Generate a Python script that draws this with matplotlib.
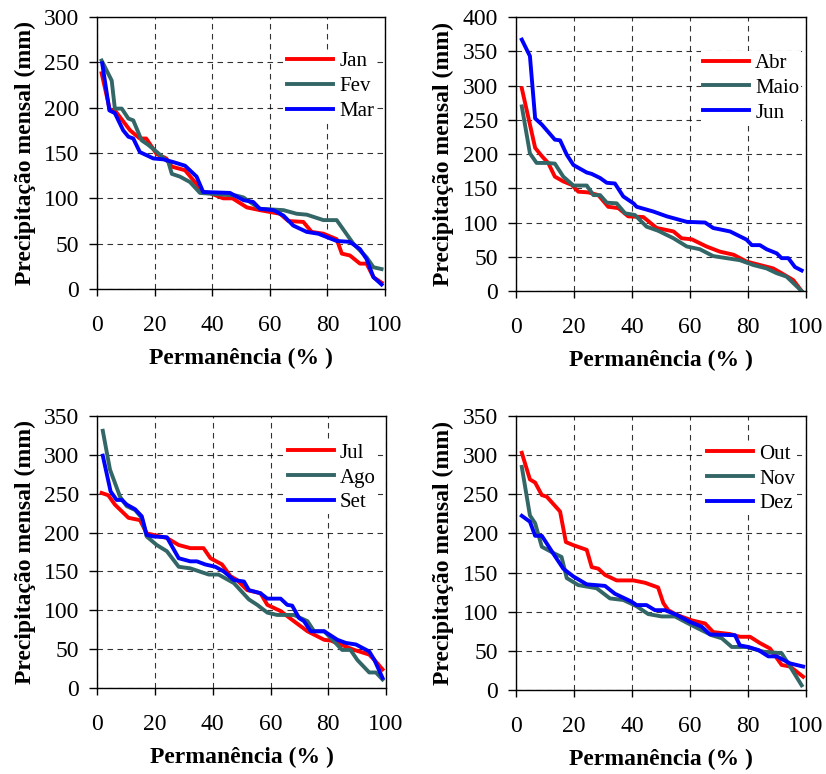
import matplotlib
matplotlib.use("Agg")
import matplotlib.pyplot as plt

# Curvas de permanência da precipitação mensal
jan_x = [1.5, 4.4, 6.1, 11.4, 14.8, 17.0, 20.6, 24.0, 25.9, 30.5, 36.8, 39.0, 43.8, 47.0, 52.0, 56.5,
         63.5, 66.4, 71.6, 74.5, 78.6, 83.2, 85.0, 87.8, 91.3, 93.6, 96.0, 98.8]
jan_y = [238, 197, 197, 175, 166, 166, 149, 144, 135, 131, 107, 106, 100, 100, 90, 87,
         83, 75, 74, 63, 61, 55, 39, 37, 28, 28, 13, 7]
fev_x = [1.5, 5.0, 6.1, 8.5, 10.8, 12.5, 15.4, 17.7, 20.0, 24.7, 25.9, 28.7, 32.2, 35.7, 48.4, 50.8,
         56.5, 64.7, 69.3, 72.8, 78.6, 83.2, 89.0, 93.6, 96.0, 98.8]
fev_y = [252, 230, 199, 199, 188, 186, 164, 159, 153, 140, 127, 124, 118, 106, 103, 101,
         88.5, 87, 83, 82, 76, 76, 50, 35, 24, 22]
mar_x = [1.7, 4.2, 6.1, 9.0, 10.8, 12.5, 14.8, 19.5, 23.0, 26.4, 30.5, 34.5, 36.8, 46.1, 50.8, 54.2,
         56.5, 61.2, 64.7, 68.1, 72.8, 76.8, 83.2, 87.8, 91.3, 93.6, 96.0, 98.8]
mar_y = [249, 197, 194, 175, 168, 166, 151, 144, 143, 140, 136, 124, 107, 106, 98, 96,
         88.5, 87, 81, 70, 63, 61, 53, 52, 44, 33, 13, 5]

abr_x = [2.0, 6.6, 8.9, 11.1, 13.4, 16.3, 19.2, 21.5, 24.9, 28.4, 31.8, 35.3, 38.7, 43.9, 48.5, 54.3,
         57.1, 60.6, 65.7, 70.3, 75.0, 79.5, 84.1, 88.7, 92.8, 95.6, 98.5]
abr_y = [296, 209, 197, 187, 167, 160, 155, 145, 144, 140, 123, 121, 109, 108, 92, 87,
         77, 75.5, 65, 57.5, 53, 43, 38, 33, 23, 16, 0]
maio_x = [2.0, 4.8, 7.1, 10.6, 13.4, 16.3, 19.8, 24.4, 26.7, 29.0, 31.3, 34.7, 37.6, 41.0, 45.0, 49.0,
          54.3, 58.9, 63.4, 68.0, 72.6, 77.2, 81.8, 86.4, 89.9, 93.3, 98.5]
maio_y = [269.5, 201, 187, 187, 186, 167, 154, 154, 140, 140, 129, 128, 113.5, 111, 94, 88,
          77, 65, 61, 51, 48, 45, 38, 33, 26, 21, 0]
jun_x = [2.0, 4.8, 6.6, 8.9, 13.4, 15.2, 17.5, 19.8, 24.4, 26.1, 29.0, 31.3, 34.1, 37.0, 40.5, 41.6,
         47.4, 52.0, 58.9, 65.2, 68.0, 73.8, 79.5, 81.3, 84.1, 86.4, 89.9, 91.6, 93.9, 96.2, 98.5]
jun_y = [367, 343, 252, 243, 221, 220, 199, 184, 173, 171, 165, 158, 157, 138, 128, 123,
         116, 109, 101, 100, 92, 87, 75, 67, 67, 61, 55, 48, 48, 35, 30]

jul_x = [1.5, 3.8, 6.1, 10.8, 14.8, 17.1, 24.1, 28.2, 32.2, 36.8, 39.2, 43.2, 46.1, 48.4, 51.9, 56.5,
         58.9, 63.5, 68.1, 72.8, 78.6, 80.9, 89.0, 94.2, 96.0, 98.8]
jul_y = [251, 248, 236, 219, 216, 199, 193, 184, 180, 180, 167, 159, 144, 139, 126, 122,
         107, 99, 86, 73, 62, 61, 49, 43, 36, 24]
ago_x = [1.9, 4.4, 7.9, 10.2, 13.1, 15.4, 17.1, 20.6, 24.1, 28.2, 32.2, 38.6, 42.0, 47.3, 52.5, 55.4,
         58.9, 62.3, 68.1, 72.8, 75.1, 78.6, 82.0, 84.8, 87.7, 90.1, 94.2, 96.5, 98.8]
ago_y = [331, 281, 246, 234, 229, 219, 195, 184, 176, 156, 154, 146, 146, 135, 114, 107,
         97, 94, 94, 86, 73, 73, 60, 49, 49, 36, 20, 20, 11]
set_x = [1.9, 4.6, 6.7, 8.5, 10.2, 13.1, 15.4, 17.1, 19.5, 24.1, 28.2, 32.2, 34.5, 37.4, 40.9, 43.8,
         47.3, 50.8, 52.5, 56.5, 58.9, 63.5, 65.8, 67.5, 69.9, 71.6, 73.9, 78.6, 83.2, 86.1, 89.6,
         94.2, 96.0, 98.8]
set_y = [299, 253, 242, 242, 236, 230, 221, 197, 195, 194, 167, 163, 163, 159, 156, 150,
         139, 137, 126, 122, 115, 115, 107, 106, 90, 86, 73, 73, 62, 58, 56,
         47, 36, 13]

out_x = [2.0, 4.8, 6.6, 8.9, 10.6, 15.2, 17.2, 19.8, 24.4, 26.1, 28.4, 30.7, 34.7, 40.5, 44.5, 49.0,
         50.8, 52.5, 55.4, 60.6, 65.2, 68.0, 73.8, 77.2, 80.7, 84.1, 87.6, 91.6, 94.5, 99.0]
out_y = [303, 269, 265, 249, 247, 228, 189, 185, 179, 157, 155, 147, 140, 140, 137, 131,
         111, 102, 96, 89, 85, 74, 71.5, 68, 68, 60, 53, 32, 30, 17]
nov_x = [2.0, 4.8, 6.6, 8.9, 12.9, 15.7, 17.5, 21.5, 27.8, 32.4, 37.0, 41.6, 45.6, 50.2, 54.8, 59.4,
         63.4, 67.5, 71.0, 74.4, 79.5, 85.3, 91.6, 94.5, 98.5]
nov_y = [285, 223, 213, 183, 175, 170, 143, 134, 130, 117, 115, 107, 97, 94, 94, 85,
         77.5, 70, 66, 55, 55, 49, 47, 30, 6]
dez_x = [2.0, 4.8, 6.6, 8.9, 12.9, 16.3, 19.8, 24.4, 30.7, 34.1, 39.8, 41.6, 45.0, 47.9, 51.4, 55.4,
         60.0, 64.0, 66.9, 75.5, 77.2, 80.1, 83.6, 87.0, 89.9, 94.5, 99.0]
dez_y = [222.5, 215, 197, 197, 174, 155, 145, 135, 133, 123, 113, 108.5, 108.5, 102, 102, 96,
         87, 81, 71, 70, 57, 55, 51, 43, 43, 34, 30]

paineis = [
    (["Jan", "Fev", "Mar"], [(jan_x, jan_y), (fev_x, fev_y), (mar_x, mar_y)], 300),
    (["Abr", "Maio", "Jun"], [(abr_x, abr_y), (maio_x, maio_y), (jun_x, jun_y)], 400),
    (["Jul", "Ago", "Set"], [(jul_x, jul_y), (ago_x, ago_y), (set_x, set_y)], 350),
    (["Out", "Nov", "Dez"], [(out_x, out_y), (nov_x, nov_y), (dez_x, dez_y)], 350),
]
cores = ["#ff0000", "#336666", "#0000ff"]

# posicoes dos eixos em fracao da figura (left, bottom, width, height)
posicoes = [
    [0.1178, 0.6266, 0.3483, 0.3514],
    [0.6247, 0.6240, 0.3511, 0.3540],
    [0.1178, 0.1111, 0.3495, 0.3514],
    [0.6247, 0.1085, 0.3511, 0.3540],
]
# canto superior esquerdo da legenda (fracao do eixo)
legenda_xy = [(0.653, 0.88), (0.638, 0.875), (0.653, 0.908), (0.652, 0.905)]

plt.rcParams['font.family'] = ['Liberation Serif', 'DejaVu Serif']

fig = plt.figure(figsize=(8.26, 7.74), dpi=100)

for (nomes, series, ymax), pos, lxy in zip(paineis, posicoes, legenda_xy):
    ax = fig.add_axes(pos)
    for nome, (xs, ys), cor in zip(nomes, series, cores):
        ax.plot(xs, ys, color=cor, lw=2.8, label=nome, solid_joinstyle='round')
    ax.set_xlim(0, 100)
    ax.set_ylim(0, ymax)
    ax.set_xticks(range(0, 101, 20))
    ax.set_yticks(range(0, ymax + 1, 50))
    ax.grid(True, color='black', linestyle=(0, (5, 4)), linewidth=0.8, alpha=0.8)
    ax.tick_params(axis='x', direction='out', length=5, width=1, labelsize=17, pad=14)
    ax.tick_params(axis='y', direction='out', length=6, width=1, labelsize=17, pad=7)
    for s in ax.spines.values():
        s.set_linewidth(1.0)
    ax.set_xlabel('Permanência (% )', fontsize=17, fontweight='bold', labelpad=8)
    ax.set_ylabel('Precipitação mensal (mm)', fontsize=17, fontweight='bold', labelpad=6)
    leg = ax.legend(loc='upper left', bbox_to_anchor=lxy, frameon=True, fontsize=15,
                    handlelength=2.2, handletextpad=0.3, labelspacing=0.25, borderaxespad=0,
                    borderpad=0.1, fancybox=False, framealpha=1)
    leg.get_frame().set_edgecolor('none')
    leg.get_frame().set_facecolor('white')

fig.savefig('out.png', dpi=100)
